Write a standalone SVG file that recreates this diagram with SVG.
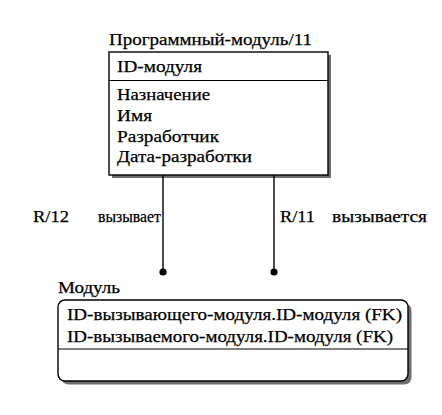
<svg xmlns="http://www.w3.org/2000/svg" width="442" height="415" viewBox="0 0 442 415">
<style>
text{font-family:'Liberation Serif','Times New Roman','DejaVu Serif',serif;font-size:17px;fill:#000;stroke:#000;stroke-width:0.25}
.box{fill:#fff;stroke:#000;stroke-width:1.4}
.shadow{fill:#6e6e6e}
.div{stroke:#000;stroke-width:1.2}
.conn{stroke:#000;stroke-width:1.4;fill:none}
</style>
<rect width="442" height="415" fill="#fff"/>
<g id="programmny-modul">
<text x="109" y="45" textLength="203" lengthAdjust="spacingAndGlyphs">Программный-модуль/11</text>
<rect class="shadow" x="112" y="55" width="219" height="123"/>
<rect class="box" x="109" y="52" width="219" height="123"/>
<line class="div" x1="109" y1="80.5" x2="328" y2="80.5"/>
<text x="117" y="72" textLength="85" lengthAdjust="spacingAndGlyphs">ID-модуля</text>
<text x="117" y="100" textLength="93" lengthAdjust="spacingAndGlyphs">Назначение</text>
<text x="117" y="121" textLength="35" lengthAdjust="spacingAndGlyphs">Имя</text>
<text x="117" y="141.5" textLength="102" lengthAdjust="spacingAndGlyphs">Разработчик</text>
<text x="117" y="161.5" textLength="135" lengthAdjust="spacingAndGlyphs">Дата-разработки</text>
</g>
<g id="connectors">
<line class="conn" x1="163" y1="175" x2="163" y2="272"/>
<circle cx="163" cy="272" r="3.6"/>
<line class="conn" x1="274" y1="175" x2="274" y2="272"/>
<circle cx="274" cy="272" r="3.6"/>
<text x="33" y="222" textLength="36" lengthAdjust="spacingAndGlyphs">R/12</text>
<text x="98" y="222" textLength="63" lengthAdjust="spacingAndGlyphs">вызывает</text>
<text x="280" y="222" textLength="35" lengthAdjust="spacingAndGlyphs">R/11</text>
<text x="332" y="222" textLength="95" lengthAdjust="spacingAndGlyphs">вызывается</text>
</g>
<g id="modul">
<text x="58" y="293" textLength="62" lengthAdjust="spacingAndGlyphs">Модуль</text>
<rect class="shadow" x="61.5" y="303.5" width="350" height="81" rx="7"/>
<rect class="box" x="58" y="300" width="350" height="81" rx="7"/>
<line class="div" x1="58" y1="349" x2="408" y2="349"/>
<text x="67" y="320" textLength="335" lengthAdjust="spacingAndGlyphs">ID-вызывающего-модуля.ID-модуля (FK)</text>
<text x="67" y="342" textLength="326" lengthAdjust="spacingAndGlyphs">ID-вызываемого-модуля.ID-модуля (FK)</text>
</g>
</svg>
